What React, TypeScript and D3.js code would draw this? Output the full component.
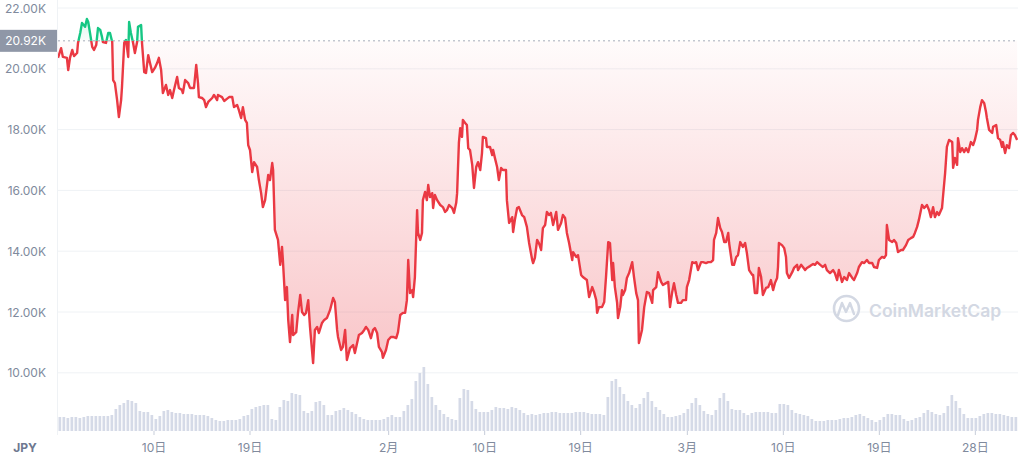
import React from "react";
import * as d3 from "d3";

// ---- data (JPY price, hours since 2022-01-01 00:00) ----
const startDate = new Date(2022, 0, 1);
const spanHours = 2160; // 90 days
const basePrice = 20920;
const basePriceLabel = "20.92K";
const currency = "JPY";

const priceSeries: [number, number][] = [
  [0,20360],[7,20680],[11,20390],[20,20360],[23,19960],[27,20360],[32,20620],[36,20420],[43,20520],[45,20850],
  [50,21180],[54,21510],[61,21380],[65,21640],[68,21540],[72,21180],[77,20720],[81,20620],[86,20780],[90,21340],
  [95,21280],[99,21050],[101,20880],[108,20850],[113,21180],[117,21180],[122,20880],[124,19630],[128,19530],[133,18970],
  [137,18410],[142,18970],[144,19400],[149,20850],[153,20950],[158,20390],[160,21540],[164,21180],[169,20850],[173,20520],
  [178,20880],[180,21380],[187,21440],[189,20850],[194,19890],[198,19860],[203,20450],[207,20190],[212,19890],[218,20030],
  [223,20190],[227,20360],[232,19960],[236,19200],[243,19470],[248,19140],[252,19300],[257,19040],[261,19300],[268,19730],
  [272,19370],[279,19300],[281,19200],[286,19630],[293,19530],[297,19370],[302,19370],[306,19370],[311,20130],[315,19530],
  [317,19070],[324,19040],[329,18970],[333,18740],[338,18910],[347,19040],[351,19140],[358,18970],[360,19140],[369,19070],
  [374,18940],[380,19010],[385,19070],[392,19070],[396,18740],[403,18810],[407,18640],[412,18380],[416,18740],[421,18320],
  [425,18220],[428,17490],[432,17330],[437,16600],[441,16930],[448,16770],[452,16340],[457,15910],[461,15450],[466,15680],
  [473,16510],[477,16340],[482,16900],[484,16670],[488,14700],[495,14370],[500,13550],[504,14140],[506,13710],[511,12390],
  [515,12820],[518,11740],[522,11010],[527,11900],[529,11240],[536,11340],[540,11970],[545,12560],[549,12000],[554,11900],
  [558,11970],[563,12390],[567,11510],[574,10320],[578,11410],[583,11510],[587,11310],[594,11640],[599,11740],[605,11800],
  [612,12060],[619,12460],[623,12330],[628,11410],[630,11180],[637,10750],[641,10850],[646,11410],[650,10420],[657,10810],
  [664,10910],[668,10650],[673,10980],[677,11240],[684,11310],[689,11410],[693,11510],[698,11410],[704,11140],[709,11410],
  [713,11470],[718,11310],[722,10850],[729,10680],[731,10490],[738,10750],[743,11080],[749,11180],[754,11180],[761,11140],
  [765,11340],[770,11900],[776,11970],[781,11970],[785,12390],[788,13710],[792,12620],[797,12720],[799,12490],[803,13150],
  [808,15350],[810,14600],[815,14370],[819,14600],[821,15680],[826,15950],[830,15680],[833,16180],[837,15780],[842,15910],
  [844,15420],[848,15850],[853,15680],[860,15520],[866,15450],[871,15290],[875,15350],[880,15520],[887,15420],[891,15260],
  [896,15590],[898,15910],[902,17560],[905,18050],[909,17760],[911,18320],[916,18220],[920,18150],[923,17390],[927,17330],
  [932,16840],[936,16080],[941,16770],[945,16930],[950,16670],[954,17230],[956,17760],[963,17720],[965,17430],[972,17430],
  [977,17160],[979,17330],[983,17070],[988,16770],[992,16340],[997,16740],[1001,16670],[1008,16670],[1010,15680],[1015,14930],
  [1022,15120],[1024,14630],[1028,15030],[1033,15420],[1037,15450],[1044,15190],[1049,15120],[1055,14800],[1060,14270],[1067,13710],
  [1069,13610],[1073,13780],[1078,14370],[1082,14270],[1087,14040],[1091,14760],[1096,14860],[1100,15290],[1105,15190],[1109,15260],
  [1114,14860],[1121,15290],[1125,14700],[1132,14930],[1136,15190],[1141,15090],[1145,14600],[1150,14270],[1157,13710],[1159,13970],
  [1166,13810],[1170,13870],[1177,13220],[1181,13150],[1190,13050],[1195,12490],[1202,12820],[1206,12660],[1211,12390],[1213,11970],
  [1217,12160],[1224,12160],[1229,12330],[1233,13150],[1238,14300],[1242,14270],[1247,13050],[1249,13610],[1253,12820],[1258,12300],
  [1260,11800],[1265,12160],[1269,12720],[1271,12560],[1276,12720],[1280,13120],[1285,13280],[1292,13640],[1296,13150],[1301,12620],
  [1305,12390],[1307,10980],[1314,11410],[1319,12160],[1325,12660],[1330,12620],[1337,12300],[1339,12720],[1346,12820],[1350,13310],
  [1357,12990],[1361,12890],[1368,12950],[1373,12990],[1377,12160],[1382,12660],[1386,12950],[1391,12560],[1395,12300],[1402,12300],
  [1406,12390],[1413,12390],[1415,12820],[1420,13050],[1427,13640],[1431,13610],[1436,13640],[1440,13380],[1447,13640],[1451,13640],
  [1458,13610],[1463,13640],[1469,13640],[1474,13710],[1476,14370],[1481,14600],[1485,15090],[1490,14760],[1494,14630],[1499,14300],
  [1503,14300],[1508,14600],[1510,14270],[1517,13550],[1521,13550],[1526,13810],[1530,13870],[1535,14300],[1541,14140],[1546,14270],
  [1550,13940],[1555,13380],[1562,13220],[1564,13220],[1568,12620],[1573,12620],[1577,13450],[1582,13150],[1586,12560],[1593,12790],
  [1598,12820],[1604,13050],[1609,12720],[1613,12950],[1618,13120],[1620,13480],[1622,14270],[1629,14200],[1634,14100],[1638,13810],
  [1640,13280],[1645,13120],[1652,13310],[1656,13450],[1663,13550],[1665,13380],[1672,13550],[1676,13480],[1681,13380],[1685,13450],
  [1692,13510],[1699,13580],[1703,13550],[1708,13640],[1715,13550],[1721,13480],[1726,13550],[1730,13380],[1737,13280],[1744,13380],
  [1748,13280],[1753,13050],[1757,13380],[1764,12990],[1769,13150],[1775,13050],[1780,13280],[1787,13120],[1791,13050],[1798,13280],
  [1802,13480],[1809,13640],[1814,13610],[1820,13710],[1825,13610],[1832,13610],[1836,13480],[1843,13450],[1847,13710],[1854,13810],
  [1859,13780],[1863,13870],[1865,14860],[1870,14370],[1877,14300],[1881,14370],[1886,14270],[1890,13970],[1897,14040],[1901,14040],
  [1908,14200],[1913,14370],[1919,14430],[1924,14470],[1928,14600],[1933,14800],[1937,15030],[1944,15520],[1949,15420],[1955,15520],
  [1960,15350],[1964,15120],[1969,15450],[1973,15120],[1978,15290],[1982,15190],[1989,15420],[1991,15750],[1996,16570],[2000,17430],
  [2005,17660],[2012,17590],[2014,16740],[2018,17070],[2023,16840],[2025,17720],[2030,17260],[2034,17390],[2039,17260],[2043,17390],
  [2048,17260],[2054,17590],[2059,17490],[2063,17660],[2068,17990],[2070,18320],[2075,18740],[2079,18970],[2084,18870],[2088,18580],
  [2090,18380],[2095,17990],[2102,17890],[2104,18090],[2111,18150],[2115,17720],[2120,17660],[2124,17430],[2126,17590],[2131,17230],
  [2135,17490],[2140,17390],[2144,17820],[2149,17890],[2153,17820],[2158,17660],
];

// relative trading volume, one bar per 9 hours
const volume: number[] = [
  14,14,13,14,14,13,14,15,15,15,15,15,15,16,22,26,28,31,30,28,
  20,19,19,16,12,15,20,21,19,18,18,17,17,17,16,16,16,15,13,11,
  10,10,11,11,11,12,15,16,22,24,25,26,26,12,11,24,31,30,38,37,
  36,20,18,20,29,30,26,16,16,20,21,23,21,19,17,14,12,11,11,11,
  11,12,14,16,14,14,20,26,32,50,58,64,47,34,26,21,17,14,12,11,
  33,42,41,30,22,19,19,19,21,24,23,23,22,24,23,21,18,16,17,16,
  17,18,18,19,19,18,18,18,18,19,19,19,18,17,17,17,16,34,50,52,
  44,37,30,26,23,27,33,39,30,24,21,17,14,14,15,16,18,22,28,33,
  26,20,17,16,21,33,38,30,22,21,21,18,16,18,19,19,19,19,18,18,
  27,27,26,21,18,17,16,15,12,10,10,10,11,11,11,12,13,13,14,16,
  17,15,13,11,9,11,14,17,17,16,16,12,10,11,13,14,18,21,19,17,
  16,18,25,36,30,23,17,13,13,13,15,17,18,18,17,17,16,15,14,14,
];

const yTicks = [10000, 12000, 14000, 16000, 18000, 20000, 22000];
const xTickDates = [
  new Date(2022, 0, 10), new Date(2022, 0, 19), new Date(2022, 1, 1),
  new Date(2022, 1, 10), new Date(2022, 1, 19), new Date(2022, 2, 1),
  new Date(2022, 2, 10), new Date(2022, 2, 19), new Date(2022, 2, 28),
];
const xTickLabels = ["10日", "19日", "2月", "10日", "19日", "3月", "10日", "19日", "28日"];

const RED = "#ea3943";
const GREEN = "#16c784";
const FONT = "Inter, 'Noto Sans CJK JP', sans-serif";

export default function App() {
  const W = 1024, H = 457;
  const left = 58, right = 1018;
  const volBase = 431;

  const endDate = d3.timeHour.offset(startDate, spanHours);
  const x = d3.scaleTime().domain([startDate, endDate]).range([left, right]);
  const y = d3.scaleLinear().domain([10000, 22000]).range([372.8, 8]);
  const vy = d3.scaleLinear().domain([0, 64]).range([volBase, volBase - 64]);

  const pts = priceSeries.map(([h, p]) => ({ date: d3.timeHour.offset(startDate, h), price: p }));
  const baseY = y(basePrice);

  const lineGen = d3.line<{ date: Date; price: number }>()
    .x((d) => x(d.date)).y((d) => y(d.price));
  const areaGen = d3.area<{ date: Date; price: number }>()
    .x((d) => x(d.date)).y0(baseY).y1((d) => y(d.price));

  const linePath = lineGen(pts) || "";
  const areaPath = areaGen(pts) || "";

  const barStepH = spanHours / volume.length;
  const barW = (x(d3.timeHour.offset(startDate, barStepH)) - left);

  const fmt = (v: number) => (v / 1000).toFixed(2) + "K";

  return (
    <svg width={W} height={H} style={{ position: "absolute", left: 0, top: 0, background: "#fff" }}
      fontFamily={FONT}>
      <defs>
        <clipPath id="above"><rect x={left} y={0} width={right - left} height={baseY} /></clipPath>
        <clipPath id="below"><rect x={left} y={baseY} width={right - left} height={H - baseY} /></clipPath>
        <linearGradient id="redGrad" gradientUnits="userSpaceOnUse" x1={0} y1={baseY} x2={0} y2={y(10000)}>
          <stop offset="0" stopColor={RED} stopOpacity={0.02} />
          <stop offset="1" stopColor={RED} stopOpacity={0.3} />
        </linearGradient>
        <linearGradient id="greenGrad" gradientUnits="userSpaceOnUse" x1={0} y1={baseY} x2={0} y2={y(22000)}>
          <stop offset="0" stopColor={GREEN} stopOpacity={0.03} />
          <stop offset="1" stopColor={GREEN} stopOpacity={0.2} />
        </linearGradient>
      </defs>

      {/* grid */}
      {yTicks.map((t) => (
        <line key={"g" + t} x1={left} x2={right} y1={y(t)} y2={y(t)} stroke="#eff2f5" strokeWidth={1} />
      ))}
      <line x1={left - 0.5} x2={left - 0.5} y1={0} y2={volBase + 4} stroke="#eff2f5" strokeWidth={1} />

      {/* y labels */}
      {yTicks.map((t) => (
        <text key={"yl" + t} x={46} y={y(t)} textAnchor="end" dominantBaseline="central"
          fontSize={12} fill="#808a9d">{fmt(t)}</text>
      ))}

      {/* volume */}
      {volume.map((v, i) => {
        const bx = x(d3.timeHour.offset(startDate, i * barStepH));
        return (
          <rect key={"v" + i} x={bx + 0.5} y={vy(v)} width={Math.max(barW - 1.3, 1)} height={volBase - vy(v)}
            fill="#d5dae7" />
        );
      })}

      {/* areas */}
      <path d={areaPath} fill="url(#redGrad)" clipPath="url(#below)" />
      <path d={areaPath} fill="url(#greenGrad)" clipPath="url(#above)" />

      {/* baseline */}
      <line x1={left} x2={right} y1={baseY} y2={baseY} stroke="#a6acb9" strokeWidth={1} strokeDasharray="2 3" />

      {/* lines */}
      <path d={linePath} fill="none" stroke={RED} strokeWidth={2.4} strokeLinejoin="round" clipPath="url(#below)" />
      <path d={linePath} fill="none" stroke={GREEN} strokeWidth={2.4} strokeLinejoin="round" clipPath="url(#above)" />

      {/* current/base price label */}
      <rect x={0} y={baseY - 11} width={57} height={22} fill="#8f97a7" />
      <text x={46} y={baseY} textAnchor="end" dominantBaseline="central" fontSize={12} fill="#fff">{basePriceLabel}</text>

      {/* x axis */}
      {xTickDates.map((d, i) => (
        <g key={"xt" + i}>
          <line x1={x(d)} x2={x(d)} y1={volBase} y2={volBase + 4} stroke="#c7cdd9" strokeWidth={1} />
          <text x={x(d)} y={447} textAnchor="middle" dominantBaseline="central" fontSize={12} fill="#808a9d">
            {xTickLabels[i]}
          </text>
        </g>
      ))}
      <text x={25} y={447} textAnchor="middle" dominantBaseline="central" fontSize={12} fontWeight={700} fill="#6e7890">
        {currency}
      </text>

      {/* watermark */}
      <g opacity={1}>
        <circle cx={846.5} cy={308.5} r={12.5} fill="none" stroke="#d3d8e3" strokeWidth={2.6} />
        <path d="M838 315 L842 303 L846 312 L850 303 L854 314" fill="none" stroke="#d3d8e3" strokeWidth={2.4}
          strokeLinejoin="round" strokeLinecap="round" />
        <text x={869} y={310} dominantBaseline="central" fontSize={17.5} fontWeight={600} fill="#d3d8e3">CoinMarketCap</text>
      </g>
    </svg>
  );
}
